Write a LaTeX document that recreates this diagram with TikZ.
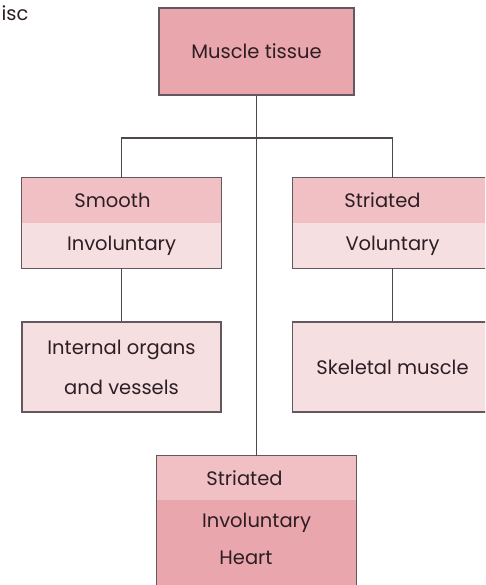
\documentclass[tikz,border=0pt]{standalone}
\usepackage{fontspec}
\setmainfont{Poppins}
\usetikzlibrary{positioning}

\definecolor{pinkdark}{RGB}{233,166,172}
\definecolor{pinkmid}{RGB}{240,192,197}
\definecolor{pinklight}{RGB}{246,223,225}
\definecolor{boxline}{RGB}{100,88,94}
\definecolor{inktext}{RGB}{45,30,36}

\begin{document}
\begin{tikzpicture}
    [
        x=1pt, y=-1pt,
        every node/.style = {
            text=inktext, font=\fontsize{19.5}{23}\selectfont
        },
        band/.style = {
            inner sep=0pt, minimum width=199pt, minimum height=45pt
        },
        border/.style = {
            draw=boxline, line width=1.2pt
        },
        link/.style = {
            draw=boxline!80!black, line width=1.1pt
        },
    ]
    \useasboundingbox (0,0) rectangle (485,585);
    \clip (0,0) rectangle (485,585);
    %\draw[help lines] (0,0) grid[step=50] (485,585);
    \node[anchor=west] (disc) at (-2,13) {isc};
    \node[band, fill=pinkdark, border, minimum width=195pt, minimum height=87pt] (tissue) at (256.5,51.5) {Muscle tissue};
    \node[band, fill=pinkmid] (smooth) at (121.5,200.5) {Smooth\hspace*{18pt}};
    \node[band, fill=pinklight] (invol) at (121.5,245.5) {Involuntary};
    \node[band, fill=pinkmid, minimum width=200pt] (striated) at (392.5,200.5) {Striated\hspace*{20pt}};
    \node[band, fill=pinklight, minimum width=200pt] (vol) at (392.5,245.5) {Voluntary};
    \node[band, fill=pinklight, border, minimum height=90pt, align=center] (organs) at (121.5,367) {\rule{0pt}{6pt}Internal organs\\[17pt]and vessels};
    \node[band, fill=pinklight, border, minimum width=200pt, minimum height=90pt] (skeletal) at (392.5,367) {Skeletal muscle};
    \node[band, fill=pinkmid, minimum height=44pt] (hstri) at (256.5,478) {Striated\hspace*{24pt}};
    \node[band, fill=pinkdark, minimum height=100pt] (hlow) at (256.5,550) {};
    \node (hinvol) at (256.5,523) {Involuntary};
    \node (heart) at (246,558) {Heart};
    \draw[border] (smooth.north west) rectangle (invol.south east);
    \draw[border] (striated.north west) rectangle (vol.south east);
    \draw[border] (hstri.north west) rectangle (hlow.south east);
    \coordinate (split) at (256.5,138);
    \draw[link] (tissue.south) -- (hstri.north);
    \draw[link] (smooth.north) |- (split) -| (striated.north);
    \draw[link] (invol.south) -- (organs.north);
    \draw[link] (vol.south) -- (skeletal.north);
\end{tikzpicture}
\end{document}
